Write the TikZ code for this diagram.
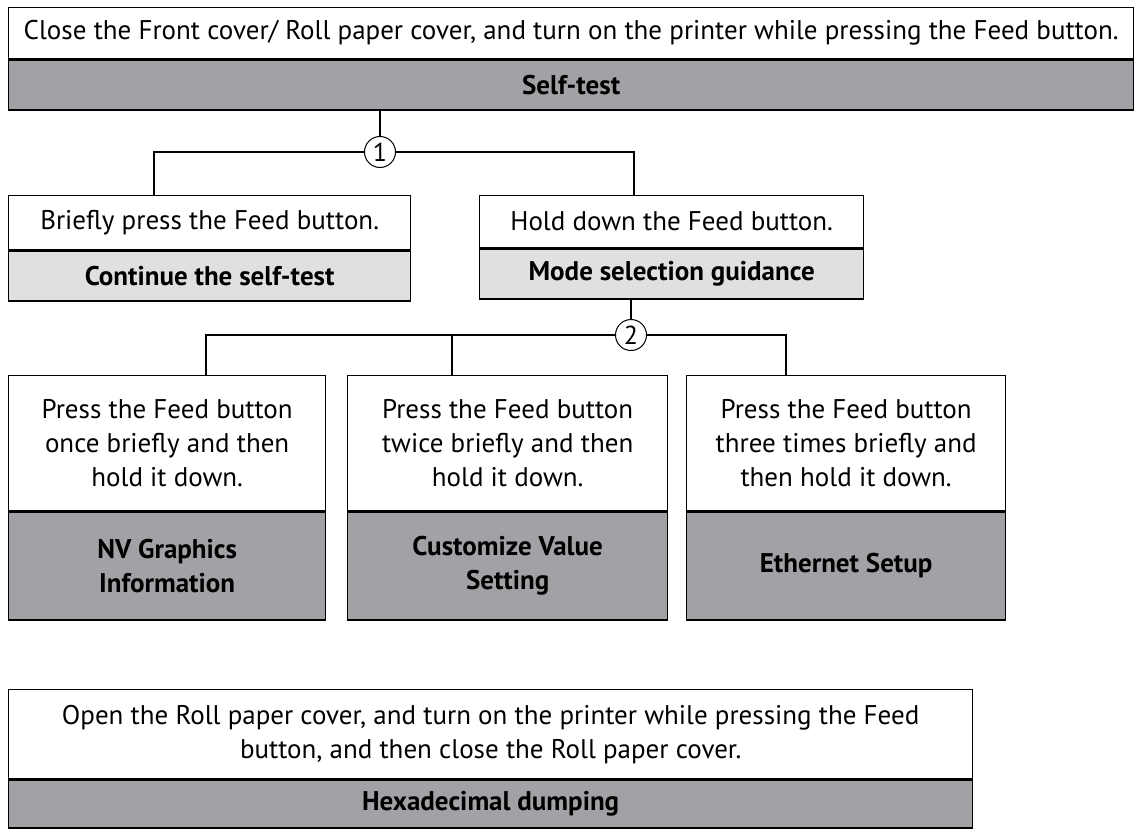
\documentclass[tikz,border=0pt]{standalone}
\usepackage{fontspec}
\setmainfont{PT Sans}
\usetikzlibrary{positioning}
\definecolor{darkbox}{HTML}{A1A2A5}
\definecolor{lightbox}{HTML}{E0E0E0}
\tikzset{
    action/.style={
           rectangle,
           draw=black, line width=1.3pt,
           inner sep=2pt,
           align=center,
           anchor=north west,
           font=\fontsize{27}{34}\selectfont,
           },
    result/.style={action, fill=darkbox, font=\fontsize{27}{34}\selectfont\bfseries},
    guide/.style={result, fill=lightbox},
    num/.style={circle, draw=black, line width=1pt, minimum size=31pt, inner sep=0pt,
           font=\fontsize{26}{26}\selectfont},
}
\begin{document}
\begin{tikzpicture}[x=1pt, y=-1pt, line width=1.3pt]
  \useasboundingbox (0,0) rectangle (1134,829);
  \node[action, minimum width=1125pt, minimum height=51pt]  (start) at (8,7) {Close the Front cover/ Roll paper cover, and turn on the printer while pressing the Feed button.};
  \node[result, minimum width=1125pt, minimum height=50pt, below=0pt of start.south west, anchor=north west] (self) {Self-test};
  \node[num] (one) at (380,152) {1};
  \node[action, minimum width=402pt, minimum height=54pt]  (brief) at (8,195) {Briefly press the Feed button.};
  \node[guide, minimum width=402pt, minimum height=50pt, below=0pt of brief.south west, anchor=north west] (cont) {Continue the self-test};
  \node[action, minimum width=384pt, minimum height=52pt]  (hold) at (479,195) {Hold down the Feed button.};
  \node[guide, minimum width=384pt, minimum height=50pt, below=0pt of hold.south west, anchor=north west] (mode) {Mode selection guidance};
  \node[num] (two) at (631,335) {2};
  \node[action, minimum width=317pt, minimum height=135pt]  (once) at (8,375) {Press the Feed button\\once briefly and then\\hold it down.};
  \node[result, minimum width=317pt, minimum height=108pt, below=0pt of once.south west, anchor=north west] (nv) {NV Graphics\\Information};
  \node[action, minimum width=320pt, minimum height=135pt]  (twice) at (347,375) {Press the Feed button\\twice briefly and then\\hold it down.};
  \node[result, minimum width=320pt, minimum height=108pt, below=0pt of twice.south west, anchor=north west] (cust) {Customize Value\\Setting};
  \node[action, minimum width=319pt, minimum height=135pt]  (three) at (686,375) {Press the Feed button\\three times briefly and\\then hold it down.};
  \node[result, minimum width=319pt, minimum height=108pt, below=0pt of three.south west, anchor=north west] (eth) {Ethernet Setup};
  \node[action, minimum width=964pt, minimum height=89pt]  (open) at (8,689) {Open the Roll paper cover, and turn on the printer while pressing the Feed\\button, and then close the Roll paper cover.};
  \node[result, minimum width=964pt, minimum height=48pt, below=0pt of open.south west, anchor=north west] (hex) {Hexadecimal dumping};
  % branches
  \draw (self.south -| one) -- (one);
  \draw (one) -- (154,152) -- (brief.north -| 154,0);
  \draw (one) -- (634,152) -- (hold.north -| 634,0);
  \draw (mode.south -| two) -- (two);
  \draw (two) -- (206,335) -- (once.north -| 206,0);
  \draw (452,335) -- (twice.north -| 452,0);
  \draw (two) -- (786,335) -- (three.north -| 786,0);
\end{tikzpicture}
\end{document}
